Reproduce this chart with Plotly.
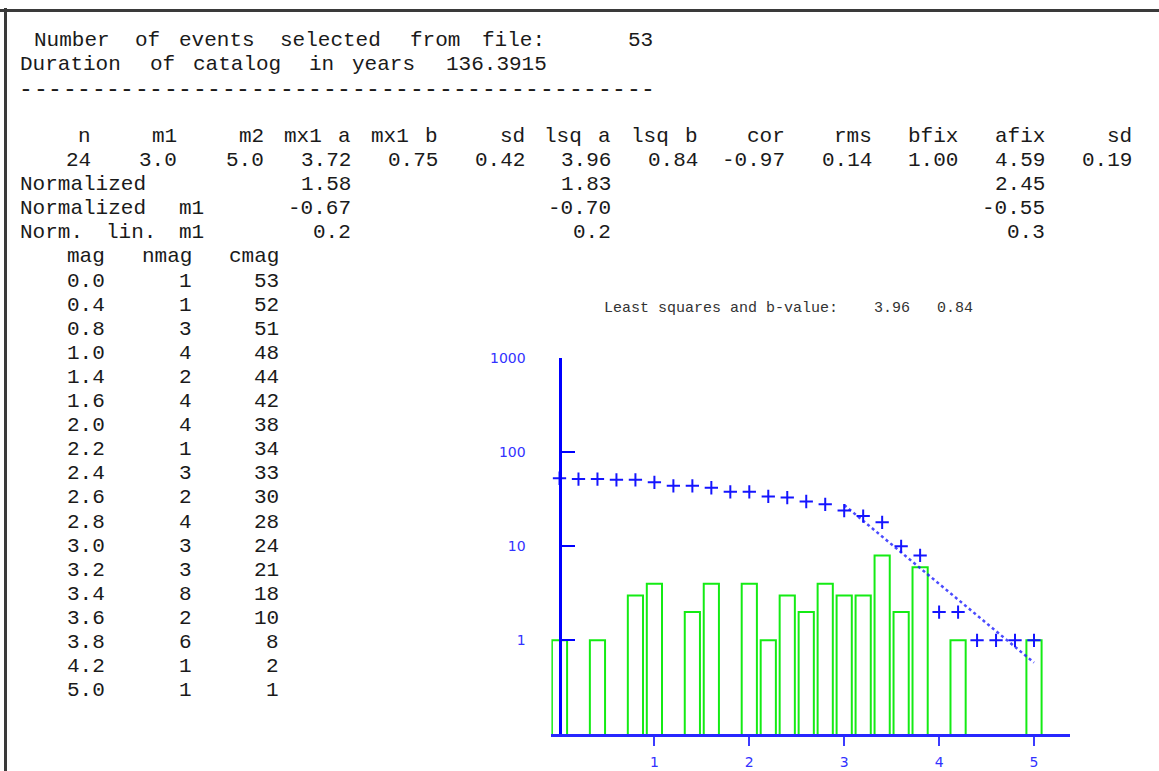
import re
import plotly.graph_objects as go

# ---------------- data ----------------
n_events = 53
duration_years = "136.3915"

header_fields = ["n", "m1", "m2", "mx1 a", "mx1 b", "sd", "lsq a", "lsq b",
                 "cor", "rms", "bfix", "afix", "sd"]
n_fit = 24
m1, m2 = 3.0, 5.0
fit_values = [3.72, 0.75, 0.42, 3.96, 0.84, -0.97, 0.14, 1.00, 4.59, 0.19]
normalized = [1.58, 1.83, 2.45]
normalized_m1 = [-0.67, -0.70, -0.55]
norm_lin_m1 = [0.2, 0.2, 0.3]

mag = [0.0, 0.4, 0.8, 1.0, 1.4, 1.6, 2.0, 2.2, 2.4, 2.6, 2.8, 3.0, 3.2, 3.4,
       3.6, 3.8, 4.2, 5.0]
nmag = [1, 1, 3, 4, 2, 4, 4, 1, 3, 2, 4, 3, 3, 8, 2, 6, 1, 1]
cmag = [53, 52, 51, 48, 44, 42, 38, 34, 33, 30, 28, 24, 21, 18, 10, 8, 2, 1]

# cumulative counts plotted at every 0.2 magnitude step
cum_mag = [0.0, 0.2, 0.4, 0.6, 0.8, 1.0, 1.2, 1.4, 1.6, 1.8, 2.0, 2.2, 2.4,
           2.6, 2.8, 3.0, 3.2, 3.4, 3.6, 3.8, 4.0, 4.2, 4.4, 4.6, 4.8, 5.0]
cum_n = [53, 52, 52, 51, 51, 48, 44, 44, 42, 38, 38, 34, 33, 30, 28, 24, 21,
         18, 10, 8, 2, 2, 1, 1, 1, 1]

# least-squares line end points
fit_mag = [3.0, 5.0]
fit_cum = [27.5, 0.58]
lsq_a, lsq_b = 3.96, 0.84

x_tick_vals = [1, 2, 3, 4, 5]
x_tick_text = ["1", "2", "3", "4", "5"]
y_tick_vals = [1, 10, 100, 1000]
y_tick_text = ["1", "10", "100", "1000"]

# ---------------- text block (fixed character grid) ----------------
def row3(label, vals, fmt):
    s = f"{label:<17}" + format(vals[0], fmt) + " " * 12 + format(vals[1], fmt)
    s += " " * 24 + format(vals[2], fmt)
    return s

lines = []
lines.append(" Number of events selected from file:" + " " * 5 + f"{n_events}")
lines.append("Duration of catalog in years " + duration_years)
lines.append("-" * 44)
lines.append("")
lines.append(f"{header_fields[0]:>5}" + "".join(f"{h:>6}" for h in header_fields[1:]))
lines.append(f"{n_fit:5d}{m1:6.1f}{m2:6.1f}" + "".join(f"{v:6.2f}" for v in fit_values))
lines.append(row3("Normalized", normalized, "6.2f"))
lines.append(row3("Normalized m1", normalized_m1, "6.2f"))
lines.append(row3("Norm. lin. m1", norm_lin_m1, "6.1f"))
lines.append(f"{'mag':>6}{'nmag':>6}{'cmag':>6}")
for m, n, c in zip(mag, nmag, cmag):
    lines.append(f"{m:6.1f}{n:6d}{c:6d}")

W, H = 1159, 771
FS = 21.0          # glyph size
ORIG = 19.0        # left edge of column 0 (px)
CW = 14.46         # character pitch of the printout (px)
LINE0 = 38.0       # baseline of first line (px)
LH = 24.35         # line pitch (px)

annotations = []

def put(token, col, k, anchor, size=FS, dy=0.0):
    base = LINE0 + LH * k + dy
    yc = base - (0.833 - 0.300) / 2 * size
    if anchor == "left":
        xp = ORIG + col * CW + 0.6
    elif anchor == "right":
        xp = ORIG + (col + len(token)) * CW - 0.6
    else:
        xp = ORIG + (col + len(token) / 2) * CW
    annotations.append(dict(
        x=xp / W, y=1 - yc / H, xref="paper", yref="paper",
        xanchor=anchor, yanchor="middle", showarrow=False,
        borderpad=0, borderwidth=0, text=token,
        font=dict(family="Liberation Mono", size=size, color="#1a1a1a"),
    ))

for k, t in enumerate(lines):
    for mt in re.finditer(r"\S+", t):
        tok, c = mt.group(), mt.start()
        if set(tok) == {"-"} and len(tok) > 1:
            for i in range(len(tok)):
                put("-", c + i, k, "center", size=23, dy=1.8)
        elif k in (0, 1):
            is_num = re.fullmatch(r"[\d.]+", tok) is not None
            put(tok, c, k, "center" if is_num else "left")
        elif k in (6, 7, 8) and c < 17:
            put(tok, c, k, "left")
        else:
            put(tok, c, k, "right")

title_txt = "Least squares and b-value:" + " " * 4 + f"{lsq_a:.2f}" + " " * 3 + f"{lsq_b:.2f}"
annotations.append(dict(
    x=603 / W, y=1 - 304 / H, xref="paper", yref="paper",
    xanchor="left", yanchor="middle", showarrow=False, borderpad=0,
    text=title_txt.replace(" ", "\u00a0"),
    font=dict(family="Liberation Mono", size=15, color="#333333"),
))

# ---------------- chart ----------------
fig = go.Figure()
fig.add_trace(go.Bar(
    x=mag, y=nmag, width=0.16,
    marker=dict(color="rgba(0,0,0,0)", line=dict(color="rgb(20,235,20)", width=2)),
    hoverinfo="skip",
))
fig.add_trace(go.Scatter(
    x=fit_mag, y=fit_cum, mode="lines",
    line=dict(color="rgba(30,30,255,0.8)", width=2.5, dash="dot"),
    hoverinfo="skip",
))
fig.add_trace(go.Scatter(
    x=cum_mag, y=cum_n, mode="markers",
    marker=dict(symbol="cross-thin", size=9.5, color="rgb(20,20,255)",
                line=dict(color="rgb(20,20,255)", width=2)),
    hoverinfo="skip",
))

x0_px = 559.5
ppu = 94.9
xr = [-0.085, 5.38]
dom_l = (x0_px + xr[0] * ppu) / W
dom_r = (x0_px + xr[1] * ppu) / W

fig.update_layout(
    width=W, height=H,
    margin=dict(l=0, r=0, t=0, b=0),
    paper_bgcolor="white", plot_bgcolor="white",
    showlegend=False,
    xaxis=dict(
        domain=[dom_l, dom_r], range=xr, showgrid=False, zeroline=False,
        showline=True, linecolor="rgb(40,40,255)", linewidth=2.5,
        ticks="outside", ticklen=9, tickwidth=2, tickcolor="rgb(60,60,255)",
        tickvals=x_tick_vals, ticktext=x_tick_text,
        tickfont=dict(family="DejaVu Sans", size=14, color="rgb(50,50,255)"),
        ticklabelstandoff=4,
    ),
    yaxis=dict(
        type="log", domain=[1 - 734 / H, 1 - 354 / H], range=[-1, 3],
        anchor="free", position=x0_px / W,
        showgrid=False, zeroline=False,
        showline=True, linecolor="rgb(0,0,255)", linewidth=3,
        ticks="inside", ticklen=13, tickwidth=2, tickcolor="rgb(0,0,255)",
        tickvals=y_tick_vals, ticktext=y_tick_text,
        tickfont=dict(family="DejaVu Sans", size=14, color="rgb(50,50,255)"),
        ticklabelstandoff=30,
    ),
    annotations=annotations,
    shapes=[
        dict(type="line", xref="paper", yref="paper", x0=0, x1=1,
             y0=1 - 2.5 / H, y1=1 - 2.5 / H, line=dict(color="#3a3a3a", width=3)),
        dict(type="line", xref="paper", yref="paper", x0=5.5 / W, x1=5.5 / W,
             y0=0, y1=1, line=dict(color="#3a3a3a", width=3)),
    ],
)

fig.write_html("out.html", config={"displayModeBar": False})
